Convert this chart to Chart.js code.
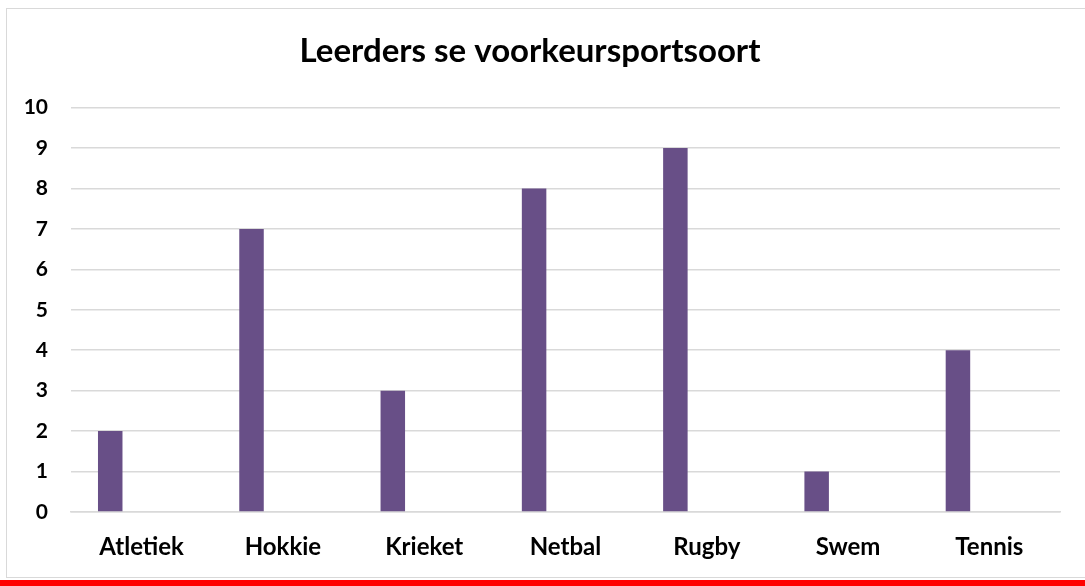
<!DOCTYPE html>
<html>
<head>
<meta charset="utf-8">
<script src="https://cdn.jsdelivr.net/npm/chart.js@4"></script>
<style>
  html, body { margin: 0; padding: 0; background: #fff; width: 1085px; height: 586px; overflow: hidden; }
  #frame { position: absolute; left: 6px; top: 8px; width: 1100px; height: 570px; border: 1px solid #d9d9d9; box-sizing: border-box; }
  #redbar { position: absolute; left: 0; top: 580px; width: 1085px; height: 6px; background: #ff0000; }
  #c { position: absolute; left: 0; top: 0; }
</style>
</head>
<body>
<div id="frame"></div>
<div id="redbar"></div>
<canvas id="c" width="1085" height="586"></canvas>
<script>
const titleText = "Leerders se voorkeursportsoort";
const categories = ["Atletiek", "Hokkie", "Krieket", "Netbal", "Rugby", "Swem", "Tennis"];
const learners = [2, 7, 3, 8, 9, 1, 4];
const emptySeriesA = [null, null, null, null, null, null, null];
const emptySeriesB = [null, null, null, null, null, null, null];
const yTicks = [0, 1, 2, 3, 4, 5, 6, 7, 8, 9, 10];

const barColor = "#684f87";
const FONT = "Lato, 'Open Sans', sans-serif";

new Chart(document.getElementById("c"), {
  type: "bar",
  data: {
    labels: categories,
    datasets: [
      { label: "Leerders", data: learners, backgroundColor: barColor, categoryPercentage: 0.667, barPercentage: 0.78 },
      { label: "", data: emptySeriesA, backgroundColor: barColor, categoryPercentage: 0.667, barPercentage: 0.78 },
      { label: "", data: emptySeriesB, backgroundColor: barColor, categoryPercentage: 0.667, barPercentage: 0.78 }
    ]
  },
  options: {
    responsive: false,
    devicePixelRatio: 1,
    animation: false,
    layout: { padding: { left: 0, right: 25, top: 0, bottom: 14 } },
    plugins: {
      legend: { display: false },
      tooltip: { enabled: false },
      title: {
        display: true,
        text: titleText,
        color: "#000",
        font: { family: FONT, size: 33, weight: "bold" },
        padding: { top: 32, bottom: 36 }
      }
    },
    scales: {
      x: {
        grid: { display: false, drawTicks: false },
        border: { display: true, color: "#d9d9d9", width: 1.5 },
        ticks: { color: "#000", padding: 21, font: { family: FONT, size: 24, weight: "bold" } },
        afterFit: (s) => { s.height = 60; }
      },
      y: {
        min: 0,
        max: 10,
        afterBuildTicks: (s) => { s.ticks = yTicks.map(v => ({ value: v })); },
        grid: { color: "#d9d9d9", lineWidth: 1.5, drawTicks: false },
        border: { display: false },
        ticks: { color: "#000", padding: 23, font: { family: FONT, size: 21, weight: "bold" } },
        afterFit: (s) => { s.width = 71; }
      }
    }
  }
});
</script>
</body>
</html>
